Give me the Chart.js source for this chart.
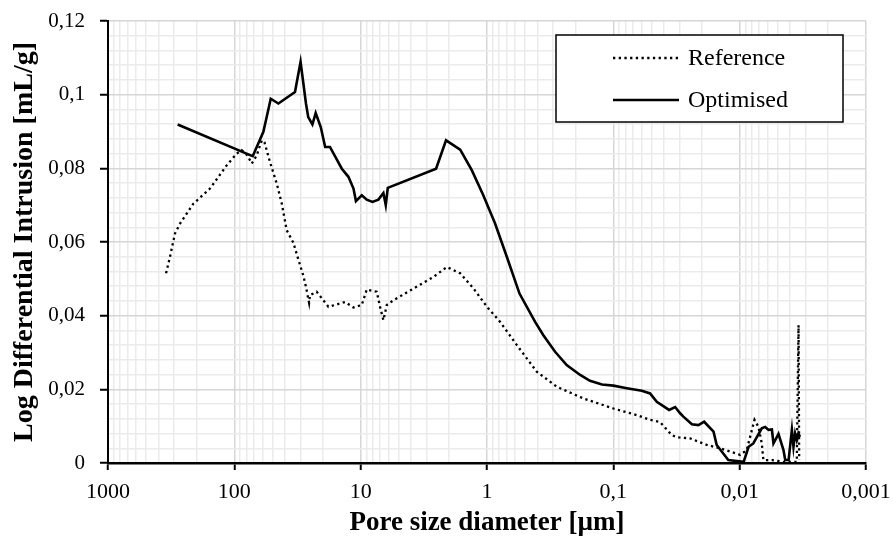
<!DOCTYPE html>
<html><head><meta charset="utf-8">
<script src="https://cdn.jsdelivr.net/npm/chart.js@4/dist/chart.umd.min.js"></script>
<style>html,body{margin:0;padding:0;background:#fff}#wrap{width:893px;height:543px;position:relative}</style>
</head><body><div id="wrap"><canvas id="c"></canvas></div>
<script>
const seriesNames = ['Reference', 'Optimised'];
const xTitle = 'Pore size diameter [µm]';
const yTitle = 'Log Differential Intrusion [mL/g]';

const refDiameter = [347, 323, 295, 269, 211, 156, 115, 95.7, 87.4, 78.8, 72.8, 66.5, 60.7, 57.8, 52.2, 46.2, 42.1, 38.5, 34.1, 31.1, 28.4, 27.1, 25.6, 25.2, 23.7, 22.3, 18, 13.3, 11.4, 9.8, 8.95, 7.46, 7.02, 6.61, 6.21, 5.5, 2.66, 2.08, 1.63, 1.28, 1.0, 0.787, 0.58, 0.404, 0.28, 0.172, 0.0998, 0.0652, 0.0512, 0.0426, 0.0345, 0.0315, 0.0247, 0.0182, 0.0143, 0.0099, 0.0088, 0.008, 0.00763, 0.0071, 0.00668, 0.00649, 0.0055, 0.0045, 0.00353, 0.00342, 0.00338];
const refValue = [0.0515, 0.056, 0.0623, 0.065, 0.0704, 0.0745, 0.0808, 0.084, 0.0849, 0.0835, 0.0813, 0.0835, 0.0876, 0.0871, 0.0817, 0.0759, 0.0704, 0.0632, 0.0598, 0.0552, 0.0508, 0.0478, 0.0435, 0.0456, 0.046, 0.0465, 0.0424, 0.0437, 0.0422, 0.0429, 0.0471, 0.0465, 0.0424, 0.0388, 0.0429, 0.0442, 0.0505, 0.0532, 0.0515, 0.0474, 0.0424, 0.0383, 0.032, 0.0248, 0.0207, 0.0175, 0.0148, 0.013, 0.0117, 0.0111, 0.0076, 0.007, 0.0067, 0.0049, 0.004, 0.0022, 0.0035, 0.009, 0.0117, 0.0098, 0.0053, 0.0008, 0.0008, 0.0003, 0.0003, 0.0374, 0.0008];

const optDiameter = [281, 75, 71.5, 58.9, 51.5, 44.8, 33.1, 29.9, 27.1, 26.0, 24.1, 22.7, 20.7, 19.1, 17.5, 14.1, 12.5, 11.4, 10.9, 9.8, 8.95, 8.07, 7.24, 6.61, 6.33, 6.1, 2.53, 2.11, 1.63, 1.32, 1.07, 0.863, 0.697, 0.553, 0.416, 0.358, 0.289, 0.234, 0.183, 0.153, 0.123, 0.0998, 0.0782, 0.0595, 0.0512, 0.0453, 0.0362, 0.0324, 0.0296, 0.0279, 0.0239, 0.0212, 0.0191, 0.0161, 0.0152, 0.0123, 0.0093, 0.0085, 0.0078, 0.00668, 0.00628, 0.00591, 0.00556, 0.0054, 0.00493, 0.0045, 0.00436, 0.0041, 0.00386, 0.00375, 0.00364, 0.00353, 0.00343, 0.00333];
const optValue = [0.0919, 0.0836, 0.0833, 0.0899, 0.0989, 0.0976, 0.1007, 0.1089, 0.0976, 0.0939, 0.0919, 0.095, 0.0912, 0.0858, 0.0858, 0.0799, 0.0777, 0.0745, 0.0711, 0.0727, 0.0715, 0.0709, 0.0715, 0.0733, 0.070, 0.0747, 0.0799, 0.0876, 0.0851, 0.0795, 0.0727, 0.065, 0.056, 0.046, 0.0383, 0.0347, 0.0302, 0.0266, 0.0239, 0.0223, 0.0213, 0.021, 0.0203, 0.0196, 0.0189, 0.0166, 0.0144, 0.0152, 0.0135, 0.0126, 0.0105, 0.0103, 0.0112, 0.0085, 0.0049, 0.0008, 0.0003, 0.0044, 0.0053, 0.0094, 0.0098, 0.009, 0.0091, 0.0053, 0.0079, 0.0035, 0.0008, 0.0008, 0.009, 0.0044, 0.008, 0.0062, 0.008, 0.0071];

const xTickValues = [1000, 100, 10, 1, 0.1, 0.01, 0.001];
const xTickLabels = ['1000', '100', '10', '1', '0,1', '0,01', '0,001'];
const yTickValues = [0, 0.02, 0.04, 0.06, 0.08, 0.1, 0.12];
const yTickLabels = ['0', '0,02', '0,04', '0,06', '0,08', '0,1', '0,12'];

const SERIF = '"Liberation Serif", "Times New Roman", serif';

function toPoints(xs, ys) { return xs.map((x, i) => ({ x: x, y: ys[i] })); }

const xGrid = [];
const decades = xTickValues.slice().sort((a, b) => a - b);
for (let i = 0; i < decades.length - 1; i++) {
  for (let k = 1; k <= 9; k++) xGrid.push(+(decades[i] * k).toPrecision(6));
}
xGrid.push(decades[decades.length - 1]);
const yGrid = [];
for (let i = 0; i < yTickValues.length - 1; i++) {
  const a = yTickValues[i], b = yTickValues[i + 1];
  for (let k = 0; k < 5; k++) yGrid.push(+(a + (b - a) * k / 5).toFixed(6));
}
yGrid.push(yTickValues[yTickValues.length - 1]);

function xMajorIndex(v) { return xTickValues.findIndex(t => Math.abs(t - v) / t < 1e-6); }
function yMajorIndex(v) { return yTickValues.findIndex(t => Math.abs(t - v) < 1e-7); }

const boxLegend = {
  id: 'boxLegend',
  afterDraw(chart) {
    const ctx = chart.ctx, a = chart.chartArea;
    const x0 = a.right - 310, y0 = a.top + 14, w = 287, h = 87;
    ctx.save();
    ctx.fillStyle = '#fff';
    ctx.fillRect(x0, y0, w, h);
    ctx.lineWidth = 1.5;
    ctx.strokeStyle = '#000';
    ctx.setLineDash([]);
    ctx.strokeRect(x0, y0, w, h);
    ctx.font = '24px ' + SERIF;
    ctx.fillStyle = '#000';
    ctx.textBaseline = 'middle';
    ctx.textAlign = 'left';
    chart.data.datasets.forEach((ds, i) => {
      const yy = y0 + 23 + i * 42;
      ctx.beginPath();
      ctx.lineWidth = ds.borderWidth;
      ctx.setLineDash(ds.borderDash || []);
      ctx.lineCap = 'butt';
      ctx.moveTo(x0 + 57, yy);
      ctx.lineTo(x0 + 123, yy);
      ctx.stroke();
      ctx.setLineDash([]);
      ctx.fillText(ds.label, x0 + 132, yy + 1);
    });
    ctx.restore();
  }
};

new Chart(document.getElementById('c'), {
  type: 'line',
  data: {
    datasets: [
      { label: seriesNames[0], data: toPoints(refDiameter, refValue), borderColor: '#000', borderWidth: 2.3, borderDash: [2.3, 3.4], borderCapStyle: 'butt', pointRadius: 0, tension: 0, fill: false },
      { label: seriesNames[1], data: toPoints(optDiameter, optValue), borderColor: '#000', borderWidth: 2.6, pointRadius: 0, tension: 0, fill: false, borderJoinStyle: 'miter' }
    ]
  },
  options: {
    responsive: true,
    maintainAspectRatio: false,
    animation: false,
    devicePixelRatio: 1,
    layout: { padding: { left: 0, right: 27, top: 21, bottom: 0 } },
    plugins: { legend: { display: false }, tooltip: { enabled: false } },
    scales: {
      x: {
        type: 'logarithmic',
        reverse: true,
        min: 0.001,
        max: 1000,
        afterBuildTicks: s => { s.ticks = xGrid.map(v => ({ value: v })); },
        afterFit: s => { s.height = 80; s.paddingLeft = 0; s.paddingRight = 0; s.paddingTop = 0; s.paddingBottom = 0; },
        ticks: {
          autoSkip: false, maxRotation: 0, minRotation: 0, padding: 9,
          color: '#000', font: { family: SERIF, size: 22 },
          callback: v => { const i = xMajorIndex(v); return i >= 0 ? xTickLabels[i] : ''; }
        },
        grid: {
          color: c => (c.tick && xMajorIndex(c.tick.value) >= 0) ? '#d6d6d6' : '#ebebeb',
          lineWidth: 1.5,
          tickLength: 7,
          tickWidth: 2,
          tickColor: c => (c.tick && xMajorIndex(c.tick.value) >= 0) ? '#000' : 'rgba(0,0,0,0)'
        },
        border: { display: true, color: '#000', width: 2.5 },
        title: { display: true, text: xTitle, color: '#000', font: { family: SERIF, size: 27, weight: 'bold' }, padding: { top: 0, bottom: 4 } }
      },
      y: {
        type: 'linear',
        min: 0,
        max: 0.12,
        afterBuildTicks: s => { s.ticks = yGrid.map(v => ({ value: v })); },
        afterFit: s => { s.width = 108; s.paddingTop = 0; s.paddingBottom = 0; s.paddingLeft = 0; s.paddingRight = 0; },
        ticks: {
          autoSkip: false, padding: 15,
          color: '#000', font: { family: SERIF, size: 21 },
          callback: v => { const i = yMajorIndex(v); return i >= 0 ? yTickLabels[i] : ''; }
        },
        grid: {
          color: c => (c.tick && yMajorIndex(c.tick.value) >= 0) ? '#d6d6d6' : '#ebebeb',
          lineWidth: 1.5,
          tickLength: 8,
          tickWidth: 2,
          tickColor: c => (c.tick && yMajorIndex(c.tick.value) >= 0) ? '#000' : 'rgba(0,0,0,0)'
        },
        border: { display: true, color: '#000', width: 2 },
        title: { display: true, text: yTitle, color: '#000', font: { family: SERIF, size: 28, weight: 'bold' }, padding: { top: 8, bottom: 0 } }
      }
    }
  },
  plugins: [boxLegend]
});
</script>
</body></html>
